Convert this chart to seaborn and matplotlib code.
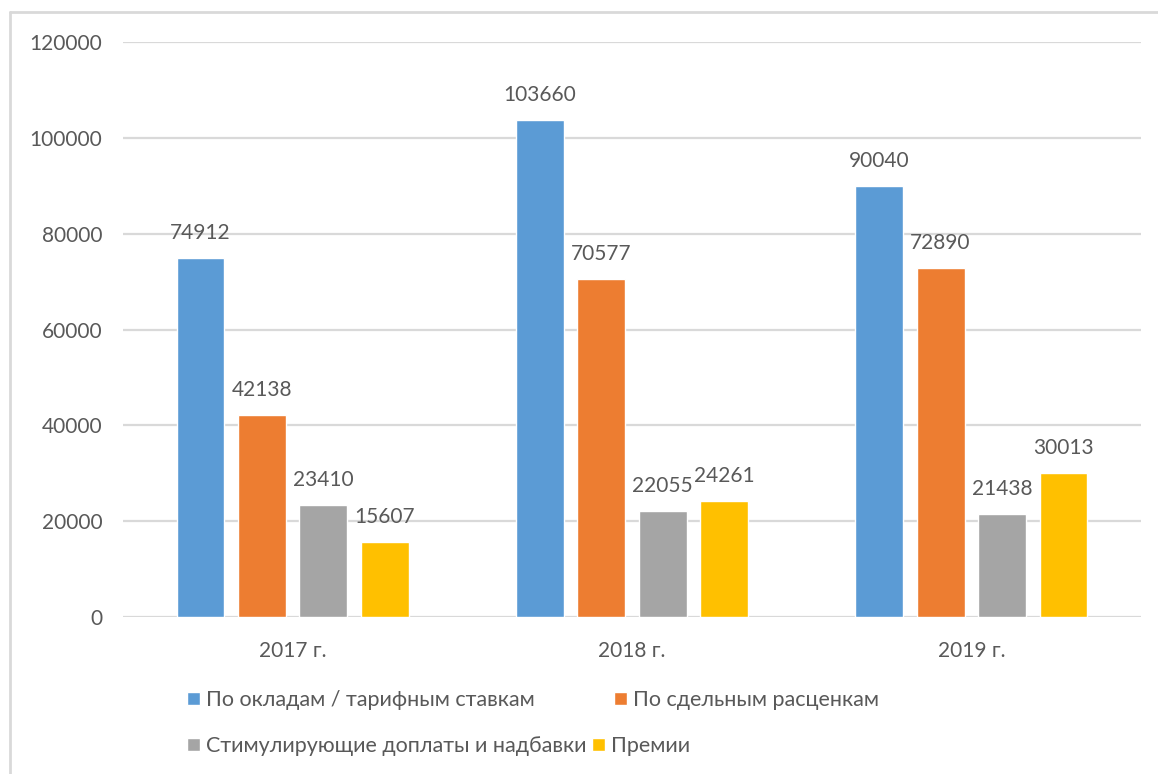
import matplotlib
matplotlib.use("Agg")
import matplotlib.pyplot as plt
import seaborn as sns
import pandas as pd
from matplotlib.patches import Rectangle
from matplotlib.lines import Line2D

categories = ["2017 г.", "2018 г.", "2019 г."]
series_names = ["По окладам / тарифным ставкам", "По сдельным расценкам",
                "Стимулирующие доплаты и надбавки", "Премии"]
salary = [74912, 103660, 90040]
piecework = [42138, 70577, 72890]
bonuses_extra = [23410, 22055, 21438]
premiums = [15607, 24261, 30013]
colors = ["#5B9BD5", "#ED7D31", "#A5A5A5", "#FFC000"]
yticks = [0, 20000, 40000, 60000, 80000, 100000, 120000]

rows = []
for name, vals in zip(series_names, [salary, piecework, bonuses_extra, premiums]):
    for c, v in zip(categories, vals):
        rows.append({"year": c, "series": name, "value": v})
df = pd.DataFrame(rows)

sns.set_theme(style="white")
plt.rcParams["font.family"] = ["Lato", "DejaVu Sans"]
text_color = "#595959"
grid_color = "#D9D9D9"

W, H = 1158, 774
fig = plt.figure(figsize=(W / 100, H / 100), dpi=100)
ax = fig.add_axes([123 / W, 1 - 617 / H, (1141 - 123) / W, (617 - 42) / H])

sns.barplot(data=df, x="year", y="value", hue="series", hue_order=series_names,
            palette=colors, width=0.724, gap=0.22, ax=ax, legend=False,
            errorbar=None, saturation=1)

ax.set_ylim(0, 120000)
ax.set_xlim(-0.5, 2.5)
ax.set_yticks(yticks)
ax.set_yticklabels([str(t) for t in yticks])
ax.set_xlabel("")
ax.set_ylabel("")
for s in ax.spines.values():
    s.set_visible(False)
ax.yaxis.grid(True, color=grid_color, linewidth=1.6)
ax.set_axisbelow(True)
ax.tick_params(axis="both", length=0, labelsize=15, colors=text_color)
ax.tick_params(axis="y", pad=15)
ax.tick_params(axis="x", pad=17)

for container in ax.containers:
    for bar in container:
        h = bar.get_height()
        ax.annotate(f"{int(h)}", (bar.get_x() + bar.get_width() / 2, h),
                    xytext=(0, 19), textcoords="offset pixels",
                    ha="center", va="baseline", fontsize=15, color=text_color)

# legend entries laid out like Excel's flowing legend
legend_pos = [(187, 700), (614, 700), (187, 746), (592, 746)]
for color, name, (px, py) in zip(colors, series_names, legend_pos):
    leg = fig.legend([Rectangle((0, 0), 1, 1, facecolor=color)], [name],
                     loc="center left", bbox_to_anchor=(px / W, 1 - py / H),
                     frameon=False, fontsize=15.5, labelcolor=text_color,
                     handlelength=0.6, handleheight=0.6, handletextpad=0.3,
                     borderpad=0, borderaxespad=0)

# outer chart frame (top and left edges visible)
fig.add_artist(Line2D([10 / W, 1.0], [1 - 12 / H, 1 - 12 / H], transform=fig.transFigure,
                      color=grid_color, linewidth=2))
fig.add_artist(Line2D([10 / W, 10 / W], [0, 1 - 12 / H], transform=fig.transFigure,
                      color=grid_color, linewidth=2))

fig.savefig("out.png", dpi=100, facecolor="white")
